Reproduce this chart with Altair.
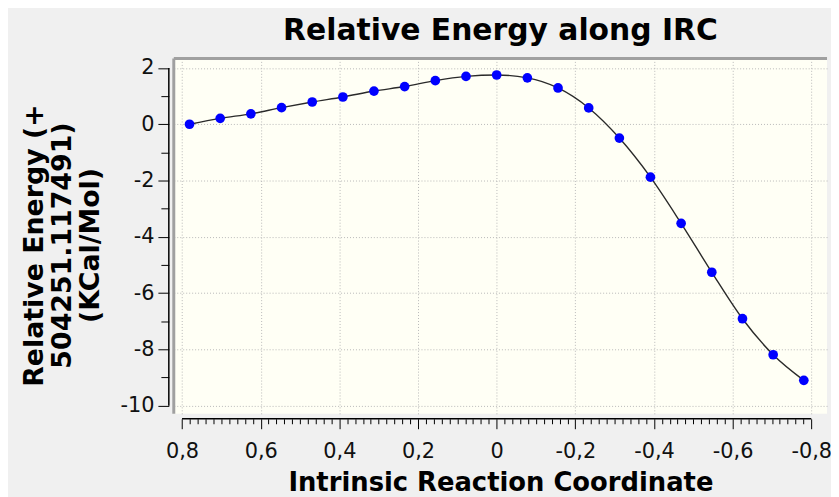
import altair as alt
import pandas as pd

# Data
irc = [0.781, 0.703, 0.625, 0.547, 0.469, 0.391, 0.312, 0.234, 0.156, 0.078, 0.0,
       -0.078, -0.156, -0.234, -0.312, -0.391, -0.469, -0.547, -0.625, -0.703, -0.781]
energy = [0.00, 0.21, 0.37, 0.59, 0.79, 0.97, 1.18, 1.34, 1.55, 1.70, 1.75,
          1.65, 1.29, 0.58, -0.49, -1.88, -3.52, -5.26, -6.91, -8.19, -9.10]

title_text = "Relative Energy along IRC"
x_title = "Intrinsic Reaction Coordinate"
y_title = ["Relative Energy (+", "504251.117491)", "(KCal/Mol)"]

x_ticks = [round(-0.8 + 0.02 * i, 2) for i in range(81)]
y_ticks = list(range(-10, 3))

df = pd.DataFrame({"irc": irc, "energy": energy})

W, H = 658, 358
FONT = "DejaVu Sans"

x_major = "abs(round(datum.value*100)) % 20 == 0"
y_major = "abs(round(datum.value)) % 2 == 0"

xscale = alt.Scale(domain=[-0.84, 0.821], reverse=True, nice=False, zero=False)
yscale = alt.Scale(domain=[-10.29, 2.34], nice=False, zero=False)

xaxis = alt.Axis(
    values=x_ticks,
    title=x_title,
    offset=5,
    domain=False,
    tickColor="#000000",
    tickWidth=1,
    tickSize={"condition": {"test": x_major, "value": 10}, "value": 5},
    labelExpr=f"({x_major}) ? ((datum.value < 0 ? '-' : '') + replace(format(abs(datum.value), '~g'), '.', ',')) : ''",
    labelFont=FONT, labelFontSize=21, labelColor="#111111", labelPadding=12,
    labelOverlap=False, labelFlush=False, labelBound=False,
    grid=True, gridColor="#b8b8b8", gridDash=[1, 2], gridWidth=1,
    gridOpacity={"condition": {"test": x_major, "value": 1}, "value": 0},
    titleFont=FONT, titleFontSize=26, titleFontWeight="bold", titleColor="#000000",
    titlePadding=8,
)

yaxis = alt.Axis(
    values=y_ticks,
    title=y_title,
    offset=5,
    domain=False,
    tickColor="#000000",
    tickWidth=1,
    tickSize={"condition": {"test": y_major, "value": 11}, "value": 8},
    labelExpr=f"({y_major}) ? ((datum.value < 0 ? '-' : '') + format(abs(datum.value), 'd')) : ''",
    labelFont=FONT, labelFontSize=21, labelColor="#111111", labelPadding=4,
    labelOverlap=False, labelFlush=False, labelBound=False,
    grid=True, gridColor="#b8b8b8", gridDash=[1, 2], gridWidth=1,
    gridOpacity={"condition": {"test": y_major, "value": 1}, "value": 0},
    titleFont=FONT, titleFontSize=27, titleFontWeight="bold", titleColor="#000000",
    titleLineHeight=28, titlePadding=16, titleY=188,
)

base = alt.Chart(df)
X = alt.X("irc:Q", scale=xscale, axis=xaxis)
Y = alt.Y("energy:Q", scale=yscale, axis=yaxis)

line = base.mark_line(color="#2a2a2a", strokeWidth=1.4, interpolate="monotone").encode(x=X, y=Y)
points = base.mark_circle(color="#0000ff", size=95, opacity=1).encode(x=X, y=Y)

# axis lines spanning the tick range only
y_domain = alt.Chart().mark_rule(color="#000000", strokeWidth=1.5).encode(
    y=alt.YDatum(2, scale=yscale, axis=yaxis),
    y2=alt.datum(-10),
    x=alt.value(-5),
)
x_domain = alt.Chart().mark_rule(color="#000000", strokeWidth=1.5).encode(
    x=alt.XDatum(0.8, scale=xscale, axis=xaxis),
    x2=alt.datum(-0.8),
    y=alt.value(H + 5),
)
# plot frame (left and top)
left_border = alt.Chart().mark_rule(color="#a0a0a0", strokeWidth=3).encode(
    x=alt.value(0), y=alt.value(0), y2=alt.value(H)
)
top_border = alt.Chart().mark_rule(color="#a0a0a0", strokeWidth=3).encode(
    x=alt.value(0), x2=alt.value(W), y=alt.value(0)
)

chart = alt.layer(line, points, y_domain, x_domain, left_border, top_border).properties(
    width=W,
    height=H,
    background="#f0f0f0",
    padding={"left": 167, "top": 49, "right": 4, "bottom": 82},
    autosize=alt.AutoSizeParams(type="none"),
    title=alt.TitleParams(
        title_text, font=FONT, fontSize=30, fontWeight="bold", color="#000000",
        anchor="middle", offset=-13, baseline="alphabetic", frame="group",
    ),
).configure_view(fill="#fffff5", stroke=None)

chart.save("out.html", embed_options={"renderer": "svg", "actions": False})
